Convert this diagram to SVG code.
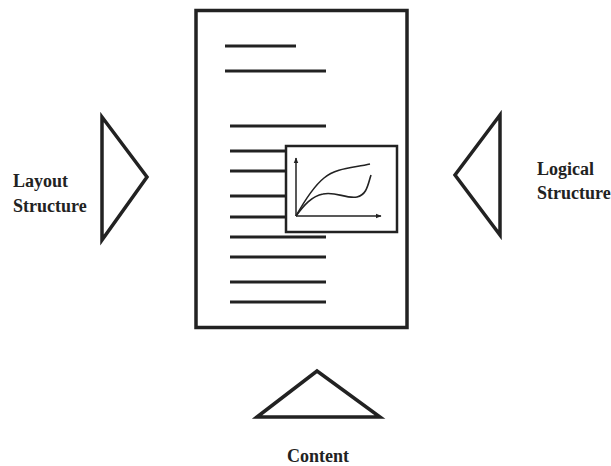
<svg xmlns="http://www.w3.org/2000/svg" width="611" height="466" viewBox="0 0 611 466">
<style>
.ln{stroke:#222;stroke-width:3;fill:none;stroke-linecap:butt}
.tri{stroke:#222;stroke-width:3.5;fill:none;stroke-linejoin:miter}
.lbl{font-family:"Liberation Serif","Times New Roman",serif;font-weight:bold;font-size:18px;fill:#222}
</style>
<defs>
<marker id="ah" viewBox="0 0 10 10" refX="9" refY="5" markerWidth="6" markerHeight="6" orient="auto" markerUnits="userSpaceOnUse">
<path d="M0,1 L10,5 L0,9 Z" fill="#222"/>
</marker>
</defs>
<rect width="611" height="466" fill="#fff"/>
<g id="document">
<rect x="196" y="10.5" width="211" height="317" fill="#fff" stroke="#222" stroke-width="3.5"/>
<line class="ln" x1="225" y1="46" x2="296" y2="46"/>
<line class="ln" x1="225" y1="71" x2="326" y2="71"/>
<line class="ln" x1="230" y1="126" x2="326" y2="126"/>
<line class="ln" x1="230" y1="151" x2="286" y2="151" stroke-width="2"/>
<line class="ln" x1="230" y1="171" x2="286" y2="171" stroke-width="2.5"/>
<line class="ln" x1="230" y1="196" x2="286" y2="196" stroke-width="2.5"/>
<line class="ln" x1="230" y1="217" x2="286" y2="217" stroke-width="2.5"/>
<line class="ln" x1="230" y1="237" x2="326" y2="237"/>
<line class="ln" x1="230" y1="257" x2="326" y2="257"/>
<line class="ln" x1="230" y1="282" x2="326" y2="282"/>
<line class="ln" x1="230" y1="302" x2="326" y2="302"/>
</g>
<g id="chart">
<rect x="286" y="146" width="111" height="86" fill="#fff" stroke="#222" stroke-width="2.5"/>
<line x1="296" y1="216" x2="296" y2="158" stroke="#222" stroke-width="1.5" marker-end="url(#ah)"/>
<line x1="296" y1="216" x2="381" y2="216" stroke="#222" stroke-width="1.5" marker-end="url(#ah)"/>
<path d="M296,216 C305,200 314,186 324,178 C336,168 352,168 370,164" stroke="#222" stroke-width="1.6" fill="none"/>
<path d="M296,216 C304,205 312,196 323,194 C335,191 346,199 357,197 C367,195 368,184 371,175" stroke="#222" stroke-width="1.6" fill="none"/>
</g>
<g id="layout">
<polygon class="tri" points="102,117 147,177 102,240"/>
<text class="lbl" x="13" y="187">Layout</text>
<text class="lbl" x="13" y="212">Structure</text>
</g>
<g id="logical">
<polygon class="tri" points="500,115 455,175 500,235"/>
<text class="lbl" x="537" y="175">Logical</text>
<text class="lbl" x="537" y="199">Structure</text>
</g>
<g id="content">
<polygon class="tri" points="257,417 317,371 380,417"/>
<text class="lbl" x="318" y="462" text-anchor="middle">Content</text>
</g>
<g id="connectors"></g>
</svg>
